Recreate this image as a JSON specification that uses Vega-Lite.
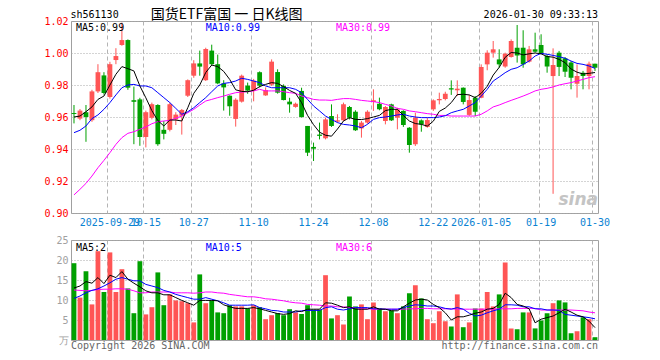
{
  "$schema": "https://vega.github.io/schema/vega-lite/v6.json",
  "background": "white",
  "padding": {"left": 43, "top": 7, "right": 5, "bottom": 0},
  "spacing": 6,
  "datasets": {
    "k": [
      {"d":"2025-09-19","o":0.9625,"h":0.9675,"l":0.956,"c":0.9619,"v":19.2,"m5":0.960,"m10":0.9502,"m30":0.9113,"v5":13.0,"v10":10.4,"v30":12.5},
      {"d":"2025-09-22","o":0.959,"h":0.965,"l":0.958,"c":0.964,"v":10.6,"m5":0.9606,"m10":0.9517,"m30":0.9148,"v5":13.5,"v10":11.0,"v30":12.4},
      {"d":"2025-09-23","o":0.963,"h":0.9675,"l":0.9445,"c":0.960,"v":17.2,"m5":0.9633,"m10":0.9544,"m30":0.9185,"v5":14.6,"v10":11.8,"v30":12.3},
      {"d":"2025-09-24","o":0.958,"h":0.977,"l":0.957,"c":0.976,"v":8.9,"m5":0.9663,"m10":0.959,"m30":0.9231,"v5":14.2,"v10":12.4,"v30":12.4},
      {"d":"2025-09-25","o":0.976,"h":0.993,"l":0.975,"c":0.988,"v":22.2,"m5":0.971,"m10":0.9613,"m30":0.9283,"v5":15.6,"v10":12.8,"v30":12.6},
      {"d":"2025-09-26","o":0.986,"h":0.988,"l":0.974,"c":0.975,"v":12.0,"m5":0.9731,"m10":0.9648,"m30":0.9329,"v5":14.1,"v10":13.5,"v30":12.7},
      {"d":"2025-09-29","o":0.9725,"h":0.9945,"l":0.9715,"c":0.993,"v":21.9,"m5":0.980,"m10":0.969,"m30":0.9377,"v5":16.2,"v10":14.3,"v30":12.7},
      {"d":"2025-09-30","o":0.9956,"h":1.003,"l":0.993,"c":0.9981,"v":12.0,"m5":0.9867,"m10":0.9738,"m30":0.9429,"v5":15.6,"v10":15.2,"v30":12.8},
      {"d":"2025-10-09","o":1.005,"h":1.019,"l":1.0045,"c":1.0081,"v":17.7,"m5":0.9915,"m10":0.9783,"m30":0.9471,"v5":17.1,"v10":15.6,"v30":12.8},
      {"d":"2025-10-10","o":1.0081,"h":1.0085,"l":0.977,"c":0.9783,"v":12.9,"m5":0.9902,"m10":0.980,"m30":0.9498,"v5":15.2,"v10":15.2,"v30":12.7},
      {"d":"2025-10-13","o":0.9705,"h":0.979,"l":0.943,"c":0.9695,"v":6.7,"m5":0.9888,"m10":0.9804,"m30":0.9508,"v5":14.2,"v10":14.8,"v30":12.3},
      {"d":"2025-10-14","o":0.971,"h":0.972,"l":0.942,"c":0.9475,"v":19.7,"m5":0.9794,"m10":0.9794,"m30":0.9523,"v5":13.3,"v10":14.8,"v30":11.8},
      {"d":"2025-10-15","o":0.9475,"h":0.964,"l":0.941,"c":0.963,"v":6.4,"m5":0.972,"m10":0.9794,"m30":0.9538,"v5":12.3,"v10":13.9,"v30":11.8},
      {"d":"2025-10-16","o":0.9595,"h":0.969,"l":0.9585,"c":0.968,"v":8.2,"m5":0.964,"m10":0.9783,"m30":0.9558,"v5":11.8,"v10":13.5,"v30":12.0},
      {"d":"2025-10-17","o":0.9675,"h":0.968,"l":0.942,"c":0.943,"v":16.9,"m5":0.9578,"m10":0.9752,"m30":0.9571,"v5":11.8,"v10":13.1,"v30":12.0},
      {"d":"2025-10-20","o":0.952,"h":0.9575,"l":0.946,"c":0.9495,"v":8.7,"m5":0.9544,"m10":0.9721,"m30":0.9575,"v5":11.3,"v10":12.4,"v30":12.0},
      {"d":"2025-10-21","o":0.952,"h":0.969,"l":0.951,"c":0.968,"v":11.4,"m5":0.9581,"m10":0.969,"m30":0.9579,"v5":11.3,"v10":12.0,"v30":12.0},
      {"d":"2025-10-22","o":0.9585,"h":0.963,"l":0.955,"c":0.9615,"v":9.9,"m5":0.9581,"m10":0.9654,"m30":0.9592,"v5":10.6,"v10":11.4,"v30":11.8},
      {"d":"2025-10-23","o":0.9608,"h":0.965,"l":0.949,"c":0.9644,"v":9.7,"m5":0.9575,"m10":0.9617,"m30":0.9606,"v5":9.9,"v10":11.0,"v30":11.8},
      {"d":"2025-10-24","o":0.9733,"h":0.9835,"l":0.9725,"c":0.983,"v":9.2,"m5":0.9658,"m10":0.9633,"m30":0.9627,"v5":9.3,"v10":10.6,"v30":11.8},
      {"d":"2025-10-27","o":0.9858,"h":0.9955,"l":0.9845,"c":0.9935,"v":4.4,"m5":0.9748,"m10":0.9658,"m30":0.9648,"v5":8.7,"v10":10.2,"v30":11.7},
      {"d":"2025-10-28","o":0.9935,"h":1.0015,"l":0.9858,"c":0.9915,"v":16.4,"m5":0.980,"m10":0.969,"m30":0.9675,"v5":9.9,"v10":10.2,"v30":11.8},
      {"d":"2025-10-29","o":0.983,"h":1.0033,"l":0.9825,"c":1.0025,"v":9.2,"m5":0.9878,"m10":0.9721,"m30":0.970,"v5":9.9,"v10":10.6,"v30":12.0},
      {"d":"2025-10-30","o":1.0015,"h":1.0052,"l":0.992,"c":0.993,"v":9.9,"m5":0.9925,"m10":0.9758,"m30":0.971,"v5":9.9,"v10":10.2,"v30":12.0},
      {"d":"2025-10-31","o":0.993,"h":0.999,"l":0.9805,"c":0.981,"v":6.9,"m5":0.9915,"m10":0.9794,"m30":0.9721,"v5":9.8,"v10":9.8,"v30":11.8},
      {"d":"2025-11-03","o":0.981,"h":0.983,"l":0.964,"c":0.9785,"v":6.7,"m5":0.9885,"m10":0.981,"m30":0.9731,"v5":8.8,"v10":9.3,"v30":11.7},
      {"d":"2025-11-04","o":0.9733,"h":0.9735,"l":0.9608,"c":0.9667,"v":8.7,"m5":0.9835,"m10":0.9815,"m30":0.9742,"v5":8.3,"v10":8.7,"v30":11.4},
      {"d":"2025-11-05","o":0.9588,"h":0.9717,"l":0.954,"c":0.9708,"v":8.4,"m5":0.977,"m10":0.9825,"m30":0.9752,"v5":7.9,"v10":8.7,"v30":11.2},
      {"d":"2025-11-06","o":0.9696,"h":0.9865,"l":0.969,"c":0.9858,"v":8.4,"m5":0.976,"m10":0.9842,"m30":0.9756,"v5":7.9,"v10":8.7,"v30":11.0},
      {"d":"2025-11-07","o":0.9796,"h":0.9815,"l":0.9745,"c":0.9765,"v":7.9,"m5":0.9758,"m10":0.9835,"m30":0.9758,"v5":7.9,"v10":8.7,"v30":10.8},
      {"d":"2025-11-10","o":0.9765,"h":0.9838,"l":0.9698,"c":0.9827,"v":8.7,"m5":0.9767,"m10":0.9825,"m30":0.9763,"v5":8.1,"v10":8.8,"v30":10.8},
      {"d":"2025-11-11","o":0.988,"h":0.9885,"l":0.9785,"c":0.9796,"v":8.2,"m5":0.979,"m10":0.9815,"m30":0.9773,"v5":7.8,"v10":8.1,"v30":10.6},
      {"d":"2025-11-12","o":0.9735,"h":0.9785,"l":0.9732,"c":0.9768,"v":5.2,"m5":0.9804,"m10":0.9794,"m30":0.9763,"v5":7.4,"v10":7.8,"v30":10.3},
      {"d":"2025-11-13","o":0.9802,"h":0.996,"l":0.9794,"c":0.9946,"v":6.2,"m5":0.9815,"m10":0.9783,"m30":0.9763,"v5":7.0,"v10":7.4,"v30":10.2},
      {"d":"2025-11-14","o":0.9881,"h":0.9898,"l":0.9746,"c":0.9752,"v":6.7,"m5":0.981,"m10":0.9783,"m30":0.9763,"v5":6.6,"v10":7.3,"v30":10.0},
      {"d":"2025-11-17","o":0.9794,"h":0.9804,"l":0.9704,"c":0.9706,"v":6.2,"m5":0.979,"m10":0.9783,"m30":0.9758,"v5":6.4,"v10":7.0,"v30":9.8},
      {"d":"2025-11-18","o":0.9696,"h":0.972,"l":0.9627,"c":0.9679,"v":7.7,"m5":0.9766,"m10":0.9783,"m30":0.9752,"v5":6.6,"v10":7.0,"v30":9.5},
      {"d":"2025-11-19","o":0.9663,"h":0.969,"l":0.9658,"c":0.9683,"v":6.9,"m5":0.9748,"m10":0.9773,"m30":0.9748,"v5":7.3,"v10":7.0,"v30":9.3},
      {"d":"2025-11-20","o":0.9763,"h":0.9783,"l":0.9596,"c":0.960,"v":6.5,"m5":0.969,"m10":0.9752,"m30":0.9731,"v5":7.1,"v10":7.3,"v30":9.2},
      {"d":"2025-11-21","o":0.9544,"h":0.9544,"l":0.9356,"c":0.9377,"v":8.7,"m5":0.961,"m10":0.971,"m30":0.9721,"v5":7.7,"v10":7.4,"v30":8.9},
      {"d":"2025-11-24","o":0.9413,"h":0.944,"l":0.9325,"c":0.9402,"v":7.6,"m5":0.9552,"m10":0.9669,"m30":0.971,"v5":7.7,"v10":7.4,"v30":8.8},
      {"d":"2025-11-25","o":0.949,"h":0.9565,"l":0.946,"c":0.9482,"v":7.6,"m5":0.9505,"m10":0.9638,"m30":0.9706,"v5":7.7,"v10":7.4,"v30":8.7},
      {"d":"2025-11-26","o":0.9467,"h":0.9596,"l":0.946,"c":0.9585,"v":16.2,"m5":0.9486,"m10":0.9606,"m30":0.9706,"v5":9.3,"v10":8.1,"v30":8.5},
      {"d":"2025-11-27","o":0.9606,"h":0.9679,"l":0.9538,"c":0.9544,"v":5.4,"m5":0.948,"m10":0.9585,"m30":0.9704,"v5":9.2,"v10":8.3,"v30":8.5},
      {"d":"2025-11-28","o":0.9571,"h":0.9617,"l":0.9565,"c":0.9579,"v":6.2,"m5":0.9525,"m10":0.9565,"m30":0.971,"v5":8.7,"v10":7.7,"v30":8.3},
      {"d":"2025-12-01","o":0.9579,"h":0.969,"l":0.9575,"c":0.9679,"v":3.9,"m5":0.9575,"m10":0.9554,"m30":0.9715,"v5":8.1,"v10":7.5,"v30":8.3},
      {"d":"2025-12-02","o":0.9663,"h":0.9669,"l":0.9585,"c":0.9596,"v":10.9,"m5":0.9596,"m10":0.955,"m30":0.9715,"v5":8.3,"v10":7.8,"v30":8.1},
      {"d":"2025-12-03","o":0.9633,"h":0.9642,"l":0.9513,"c":0.9517,"v":8.4,"m5":0.9585,"m10":0.9544,"m30":0.971,"v5":7.7,"v10":8.1,"v30":8.1},
      {"d":"2025-12-04","o":0.9529,"h":0.9575,"l":0.9471,"c":0.9565,"v":8.9,"m5":0.9584,"m10":0.9533,"m30":0.9704,"v5":7.7,"v10":8.1,"v30":7.8},
      {"d":"2025-12-05","o":0.9565,"h":0.9642,"l":0.9558,"c":0.9633,"v":5.2,"m5":0.959,"m10":0.9554,"m30":0.970,"v5":7.7,"v10":8.1,"v30":7.8},
      {"d":"2025-12-08","o":0.9694,"h":0.9773,"l":0.9638,"c":0.9704,"v":9.4,"m5":0.960,"m10":0.9585,"m30":0.9696,"v5":8.3,"v10":7.8,"v30":7.7},
      {"d":"2025-12-09","o":0.9683,"h":0.9721,"l":0.9642,"c":0.9648,"v":7.9,"m5":0.961,"m10":0.9596,"m30":0.969,"v5":7.7,"v10":7.8,"v30":7.7},
      {"d":"2025-12-10","o":0.9575,"h":0.9669,"l":0.9554,"c":0.9663,"v":7.2,"m5":0.964,"m10":0.960,"m30":0.9679,"v5":7.7,"v10":7.7,"v30":7.7},
      {"d":"2025-12-11","o":0.9679,"h":0.9683,"l":0.9575,"c":0.9579,"v":7.4,"m5":0.9648,"m10":0.9606,"m30":0.9669,"v5":7.3,"v10":7.7,"v30":7.7},
      {"d":"2025-12-12","o":0.9596,"h":0.9658,"l":0.9523,"c":0.9648,"v":6.7,"m5":0.9648,"m10":0.9613,"m30":0.9654,"v5":7.3,"v10":7.7,"v30":7.7},
      {"d":"2025-12-15","o":0.9638,"h":0.9642,"l":0.9538,"c":0.955,"v":8.4,"m5":0.961,"m10":0.9617,"m30":0.9648,"v5":8.3,"v10":8.1,"v30":7.7},
      {"d":"2025-12-16","o":0.9533,"h":0.9537,"l":0.9377,"c":0.9425,"v":11.7,"m5":0.9575,"m10":0.9606,"m30":0.9638,"v5":9.2,"v10":8.5,"v30":7.8},
      {"d":"2025-12-17","o":0.9429,"h":0.9627,"l":0.9419,"c":0.9596,"v":13.7,"m5":0.9559,"m10":0.960,"m30":0.9633,"v5":10.0,"v10":8.8,"v30":7.8},
      {"d":"2025-12-18","o":0.9579,"h":0.9585,"l":0.9508,"c":0.9554,"v":10.4,"m5":0.9554,"m10":0.9596,"m30":0.9627,"v5":10.2,"v10":8.7,"v30":7.9},
      {"d":"2025-12-19","o":0.9538,"h":0.9596,"l":0.9533,"c":0.9581,"v":5.2,"m5":0.9543,"m10":0.9596,"m30":0.9621,"v5":10.0,"v10":8.5,"v30":7.9},
      {"d":"2025-12-22","o":0.9648,"h":0.971,"l":0.9638,"c":0.9704,"v":4.2,"m5":0.9574,"m10":0.9596,"m30":0.9617,"v5":8.9,"v10":8.5,"v30":7.8},
      {"d":"2025-12-23","o":0.9704,"h":0.9752,"l":0.9679,"c":0.9712,"v":7.2,"m5":0.9635,"m10":0.960,"m30":0.961,"v5":8.1,"v10":8.3,"v30":7.8},
      {"d":"2025-12-24","o":0.9712,"h":0.9758,"l":0.9704,"c":0.9745,"v":4.7,"m5":0.9656,"m10":0.9608,"m30":0.961,"v5":6.8,"v10":7.9,"v30":7.8},
      {"d":"2025-12-25","o":0.9779,"h":0.9829,"l":0.9738,"c":0.9772,"v":3.4,"m5":0.969,"m10":0.9627,"m30":0.9606,"v5":5.0,"v10":7.7,"v30":7.8},
      {"d":"2025-12-26","o":0.9767,"h":0.9829,"l":0.9731,"c":0.9777,"v":11.4,"m5":0.974,"m10":0.9638,"m30":0.9606,"v5":5.8,"v10":8.1,"v30":7.7},
      {"d":"2025-12-29","o":0.9783,"h":0.9785,"l":0.9679,"c":0.9694,"v":3.2,"m5":0.9742,"m10":0.9648,"m30":0.9606,"v5":5.8,"v10":7.7,"v30":7.7},
      {"d":"2025-12-30","o":0.9613,"h":0.9738,"l":0.9606,"c":0.9706,"v":4.4,"m5":0.9738,"m10":0.9669,"m30":0.9606,"v5":6.2,"v10":6.7,"v30":7.7},
      {"d":"2025-12-31","o":0.9721,"h":0.9731,"l":0.9606,"c":0.9633,"v":7.9,"m5":0.9721,"m10":0.969,"m30":0.9606,"v5":6.7,"v10":6.0,"v30":7.7},
      {"d":"2026-01-05","o":0.9721,"h":0.9929,"l":0.9717,"c":0.9913,"v":7.9,"m5":0.9748,"m10":0.9731,"m30":0.9617,"v5":7.0,"v10":6.2,"v30":7.7},
      {"d":"2026-01-06","o":0.9929,"h":1.0017,"l":0.9892,"c":1.0002,"v":12.0,"m5":0.9792,"m10":0.9773,"m30":0.9638,"v5":7.7,"v10":6.8,"v30":7.7},
      {"d":"2026-01-07","o":1.0002,"h":1.0075,"l":0.9971,"c":1.0023,"v":8.4,"m5":0.9862,"m10":0.9825,"m30":0.9663,"v5":7.9,"v10":7.3,"v30":7.7},
      {"d":"2026-01-08","o":0.996,"h":1.0023,"l":0.9908,"c":0.9929,"v":11.4,"m5":0.991,"m10":0.985,"m30":0.9675,"v5":8.9,"v10":7.7,"v30":7.8},
      {"d":"2026-01-09","o":0.9915,"h":1.0002,"l":0.9908,"c":0.9996,"v":19.4,"m5":0.9973,"m10":0.9877,"m30":0.969,"v5":11.7,"v10":8.8,"v30":7.8},
      {"d":"2026-01-12","o":0.9975,"h":1.0085,"l":0.9971,"c":1.0075,"v":2.9,"m5":1.0003,"m10":0.9898,"m30":0.9704,"v5":10.6,"v10":8.8,"v30":7.8},
      {"d":"2026-01-13","o":1.0033,"h":1.0175,"l":0.994,"c":0.9985,"v":2.7,"m5":1.0,"m10":0.9908,"m30":0.9717,"v5":8.9,"v10":8.7,"v30":7.9},
      {"d":"2026-01-14","o":1.0033,"h":1.0142,"l":0.9908,"c":0.9929,"v":6.9,"m5":0.9988,"m10":0.9929,"m30":0.9731,"v5":8.5,"v10":8.3,"v30":7.9},
      {"d":"2026-01-15","o":0.9946,"h":1.0044,"l":0.994,"c":1.0023,"v":6.9,"m5":0.9995,"m10":0.995,"m30":0.9746,"v5":7.8,"v10":8.3,"v30":7.9},
      {"d":"2026-01-16","o":1.0023,"h":1.0127,"l":1.0002,"c":1.0008,"v":2.9,"m5":1.0,"m10":0.9981,"m30":0.9763,"v5":4.3,"v10":7.8,"v30":7.9},
      {"d":"2026-01-19","o":1.005,"h":1.0117,"l":0.9992,"c":0.9996,"v":4.9,"m5":0.9995,"m10":0.9998,"m30":0.9773,"v5":5.2,"v10":7.8,"v30":7.5},
      {"d":"2026-01-20","o":0.9981,"h":0.9992,"l":0.9877,"c":0.9915,"v":6.7,"m5":0.9978,"m10":0.9992,"m30":0.9779,"v5":5.6,"v10":7.5,"v30":7.5},
      {"d":"2026-01-21","o":0.9856,"h":1.0029,"l":0.912,"c":0.9925,"v":9.2,"m5":0.9974,"m10":0.9985,"m30":0.9788,"v5":6.0,"v10":7.5,"v30":7.5},
      {"d":"2026-01-22","o":1.0002,"h":1.0013,"l":0.9856,"c":0.9913,"v":9.9,"m5":0.996,"m10":0.9977,"m30":0.980,"v5":6.8,"v10":7.4,"v30":7.5},
      {"d":"2026-01-23","o":0.9967,"h":0.9975,"l":0.985,"c":0.9883,"v":9.4,"m5":0.994,"m10":0.9967,"m30":0.9808,"v5":7.7,"v10":6.4,"v30":7.5},
      {"d":"2026-01-26","o":0.994,"h":0.995,"l":0.9773,"c":0.9846,"v":1.7,"m5":0.990,"m10":0.995,"m30":0.9815,"v5":7.0,"v10":6.2,"v30":7.5},
      {"d":"2026-01-27","o":0.9808,"h":0.9929,"l":0.9721,"c":0.9856,"v":2.2,"m5":0.988,"m10":0.9935,"m30":0.9825,"v5":6.2,"v10":6.0,"v30":7.4},
      {"d":"2026-01-28","o":0.9877,"h":0.9888,"l":0.9773,"c":0.9856,"v":5.7,"m5":0.9869,"m10":0.9929,"m30":0.9835,"v5":5.8,"v10":5.8,"v30":7.3},
      {"d":"2026-01-29","o":0.9856,"h":0.9946,"l":0.9773,"c":0.9933,"v":5.2,"m5":0.9873,"m10":0.9919,"m30":0.9846,"v5":4.7,"v10":5.6,"v30":7.0},
      {"d":"2026-01-30","o":0.9933,"h":0.9933,"l":0.9888,"c":0.9908,"v":0.7,"m5":0.9878,"m10":0.9904,"m30":0.9852,"v5":3.1,"v10":5.3,"v30":6.8}
    ]
  },
  "vconcat": [
    {
      "width": 527,
      "height": 192,
      "layer": [
        {
          "data": {"name": "k"},
          "encoding": {
            "x": {
              "field": "d", "type": "ordinal",
              "scale": {"paddingInner": 0, "paddingOuter": 0},
              "axis": {
                "title": null,
                "values": ["2025-09-29","2025-10-15","2025-10-27","2025-11-10","2025-11-24","2025-12-08","2025-12-22","2026-01-05","2026-01-19","2026-01-30"],
                "labelExpr": "datum.value == '2025-09-29' || datum.value == '2026-01-05' ? datum.value : substring(datum.value, 5)",
                "labelColor": "#0a82d2",
                "labelAngle": 0,
                "labelFlush": 5,
                "bandPosition": 0.15,
                "labelPadding": 4,
                "grid": true,
                "gridDash": [4, 3],
                "gridColor": "#b4b4b4"
              }
            },
            "y": {
              "field": "h", "type": "quantitative",
              "scale": {"domain": [0.9, 1.02], "nice": false, "zero": false},
              "axis": {
                "title": null,
                "values": [0.9, 0.92, 0.94, 0.96, 0.98, 1.0, 1.02],
                "tickCount": 20,
                "format": ".2f",
                "labelColor": "#ff0000",
                "labelPadding": 3,
                "labelOverlap": false,
                "minExtent": 27,
                "maxExtent": 27,
                "grid": true,
                "gridDash": [1, 2],
                "gridColor": "#a8a8a8"
              }
            }
          },
          "layer": [
            {
              "mark": {"type": "rule", "strokeWidth": 1},
              "encoding": {
                "y2": {"field": "l"},
                "color": {"condition": {"test": "datum.c >= datum.o", "value": "#ff5555"}, "value": "#00a000"}
              }
            },
            {
              "mark": {"type": "bar", "width": {"band": 0.8}},
              "encoding": {
                "y": {"field": "o", "type": "quantitative"},
                "y2": {"field": "c"},
                "color": {"condition": {"test": "datum.c >= datum.o", "value": "#ff5555"}, "value": "#00a000"}
              }
            },
            {
              "mark": {"type": "line", "color": "#ff00ff", "strokeWidth": 1},
              "encoding": {"y": {"field": "m30", "type": "quantitative"}}
            },
            {
              "mark": {"type": "line", "color": "#0000ff", "strokeWidth": 1},
              "encoding": {"y": {"field": "m10", "type": "quantitative"}}
            },
            {
              "mark": {"type": "line", "color": "#000000", "strokeWidth": 1},
              "encoding": {"y": {"field": "m5", "type": "quantitative"}}
            }
          ]
        },
        {
          "data": {"values": [{}]},
          "layer": [
            {
              "mark": {"type": "text", "text": "sh561130", "align": "left", "baseline": "alphabetic", "dx": -3.5, "dy": -3.3, "color": "#000"},
              "encoding": {"x": {"datum": "2025-09-19", "type": "ordinal"}, "y": {"datum": 1.02, "type": "quantitative"}}
            },
            {
              "mark": {"type": "text", "text": "国货ETF富国 一 日K线图", "align": "left", "baseline": "alphabetic", "dx": -1, "dy": -2.3, "font": "Noto Sans CJK SC", "fontSize": 14, "color": "#000"},
              "encoding": {"x": {"datum": "2025-10-16", "type": "ordinal"}, "y": {"datum": 1.02, "type": "quantitative"}}
            },
            {
              "mark": {"type": "text", "text": "2026-01-30 09:33:13", "align": "right", "baseline": "alphabetic", "dx": 3, "dy": -3.3, "color": "#000"},
              "encoding": {"x": {"datum": "2026-01-30", "type": "ordinal"}, "y": {"datum": 1.02, "type": "quantitative"}}
            },
            {
              "mark": {"type": "text", "text": "MA5:0.99", "align": "left", "baseline": "alphabetic", "dx": 2, "dy": 9.7, "color": "#000000"},
              "encoding": {"x": {"datum": "2025-09-19", "type": "ordinal"}, "y": {"datum": 1.02, "type": "quantitative"}}
            },
            {
              "mark": {"type": "text", "text": "MA10:0.99", "align": "left", "baseline": "alphabetic", "dx": 0, "dy": 9.7, "color": "#0000ff"},
              "encoding": {"x": {"datum": "2025-10-29", "type": "ordinal"}, "y": {"datum": 1.02, "type": "quantitative"}}
            },
            {
              "mark": {"type": "text", "text": "MA30:0.99", "align": "left", "baseline": "alphabetic", "dx": -1.6, "dy": 9.7, "color": "#ff00ff"},
              "encoding": {"x": {"datum": "2025-11-28", "type": "ordinal"}, "y": {"datum": 1.02, "type": "quantitative"}}
            },
            {
              "mark": {"type": "text", "text": "sina", "align": "right", "baseline": "alphabetic", "dx": 3, "dy": -8, "font": "DejaVu Sans", "fontSize": 17, "fontStyle": "italic", "fontWeight": "bold", "color": "#c4c4c4"},
              "encoding": {"x": {"datum": "2026-01-30", "type": "ordinal"}, "y": {"datum": 0.9, "type": "quantitative"}}
            }
          ]
        }
      ]
    },
    {
      "width": 527,
      "height": 100,
      "layer": [
        {
          "data": {"name": "k"},
          "encoding": {
            "x": {
              "field": "d", "type": "ordinal",
              "scale": {"paddingInner": 0, "paddingOuter": 0},
              "axis": {
                "title": null,
                "values": ["2025-09-29","2025-10-15","2025-10-27","2025-11-10","2025-11-24","2025-12-08","2025-12-22","2026-01-05","2026-01-19","2026-01-30"],
                "labels": false,
                "bandPosition": 0.15,
                "grid": true,
                "gridDash": [4, 3],
                "gridColor": "#b4b4b4"
              }
            },
            "y": {
              "field": "v", "type": "quantitative",
              "scale": {"domain": [0, 25], "nice": false},
              "axis": {
                "title": null,
                "values": [0, 5, 10, 15, 20, 25],
                "tickCount": 20,
                "labelExpr": "datum.value == 0 ? '万' : datum.label",
                "labelColor": "#a0a0a0",
                "labelPadding": 3,
                "labelOverlap": false,
                "minExtent": 27,
                "maxExtent": 27,
                "grid": true,
                "gridDash": [1, 2],
                "gridColor": "#a8a8a8"
              }
            }
          },
          "layer": [
            {
              "mark": {"type": "bar", "width": {"band": 0.8}},
              "encoding": {
                "color": {"condition": {"test": "datum.c >= datum.o", "value": "#ff5555"}, "value": "#00a000"}
              }
            },
            {
              "mark": {"type": "line", "color": "#ff00ff", "strokeWidth": 1},
              "encoding": {"y": {"field": "v30", "type": "quantitative"}}
            },
            {
              "mark": {"type": "line", "color": "#0000ff", "strokeWidth": 1},
              "encoding": {"y": {"field": "v10", "type": "quantitative"}}
            },
            {
              "mark": {"type": "line", "color": "#000000", "strokeWidth": 1},
              "encoding": {"y": {"field": "v5", "type": "quantitative"}}
            }
          ]
        },
        {
          "data": {"values": [{}]},
          "layer": [
            {
              "mark": {"type": "text", "text": "MA5:2", "align": "left", "baseline": "alphabetic", "dx": 2, "dy": 10.5, "color": "#000000"},
              "encoding": {"x": {"datum": "2025-09-19", "type": "ordinal"}, "y": {"datum": 25, "type": "quantitative"}}
            },
            {
              "mark": {"type": "text", "text": "MA10:5", "align": "left", "baseline": "alphabetic", "dx": 0, "dy": 10.5, "color": "#0000ff"},
              "encoding": {"x": {"datum": "2025-10-29", "type": "ordinal"}, "y": {"datum": 25, "type": "quantitative"}}
            },
            {
              "mark": {"type": "text", "text": "MA30:6", "align": "left", "baseline": "alphabetic", "dx": -1.6, "dy": 10.5, "color": "#ff00ff"},
              "encoding": {"x": {"datum": "2025-11-28", "type": "ordinal"}, "y": {"datum": 25, "type": "quantitative"}}
            },
            {
              "mark": {"type": "text", "text": "Copyright 2026 SINA.COM", "align": "left", "baseline": "alphabetic", "dx": -3, "dy": 9, "color": "#666666"},
              "encoding": {"x": {"datum": "2025-09-19", "type": "ordinal"}, "y": {"datum": 0, "type": "quantitative"}}
            },
            {
              "mark": {"type": "text", "text": "http://finance.sina.com.cn", "align": "right", "baseline": "alphabetic", "dx": 3, "dy": 9, "color": "#666666"},
              "encoding": {"x": {"datum": "2026-01-30", "type": "ordinal"}, "y": {"datum": 0, "type": "quantitative"}}
            }
          ]
        }
      ]
    }
  ],
  "config": {
    "view": {"stroke": "#a0a0a0", "strokeWidth": 1},
    "axis": {"labelFont": "DejaVu Sans Mono", "labelFontSize": 10, "ticks": false, "domain": false, "labelOverlap": false},
    "text": {"font": "DejaVu Sans Mono", "fontSize": 10}
  }
}
